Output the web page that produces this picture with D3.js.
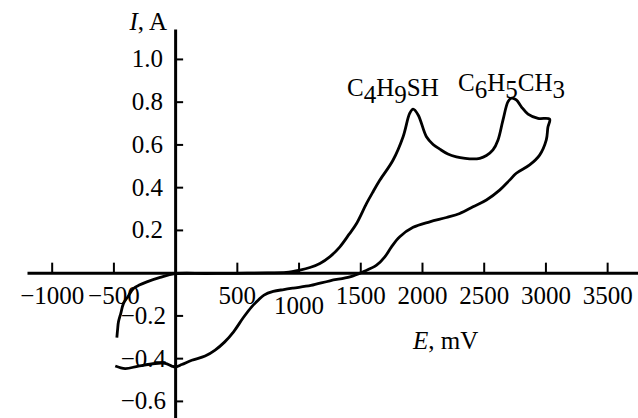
<!DOCTYPE html>
<html>
<head>
<meta charset="utf-8">
<script src="https://cdn.jsdelivr.net/npm/d3@7"></script>
<style>
  body { margin: 0; background: #fff; }
  text { font-family: "Liberation Serif", "Times New Roman", serif; font-size: 25px; fill: #000; }
</style>
</head>
<body>
<svg id="container" width="638" height="418"></svg>
<script>
// anodic (forward) scan, E in mV, I in A
const forwardE = [-472, -466, -459, -440, -418, -380, -337, -290, -229, -121, 0, 250, 500, 750, 900,
  1011, 1092, 1173, 1255, 1335, 1410, 1470, 1551, 1605, 1659, 1766, 1847, 1901, 1928, 1969, 2036,
  2090, 2144, 2210, 2279, 2350, 2413, 2468, 2522, 2575, 2616, 2656, 2697, 2724, 2764, 2805, 2859, 2940, 3034];
const forwardI = [-0.304, -0.265, -0.230, -0.190, -0.144, -0.110, -0.074, -0.058, -0.043, -0.022, -0.005, -0.004, -0.003, -0.001, 0.001,
  0.012, 0.024, 0.043, 0.075, 0.121, 0.180, 0.230, 0.324, 0.380, 0.433, 0.527, 0.636, 0.746, 0.765, 0.738, 0.636,
  0.600, 0.578, 0.555, 0.542, 0.535, 0.532, 0.535, 0.548, 0.574, 0.621, 0.714, 0.800, 0.816, 0.808, 0.776, 0.742, 0.722, 0.718];

// cathodic (reverse) scan
const reverseE = [3020, 3007, 2953, 2872, 2764, 2710, 2629, 2522, 2413, 2306, 2198, 2063, 1928, 1820, 1753,
  1699, 1632, 1524, 1416, 1254, 1100, 957, 880, 795, 720, 675, 620, 553, 472, 400, 324, 243, 135, 54, 0,
  -27, -81, -162, -297, -405, -485];
const reverseI = [0.680, 0.621, 0.550, 0.504, 0.465, 0.433, 0.386, 0.340, 0.308, 0.277, 0.258, 0.238, 0.212, 0.168, 0.121,
  0.074, 0.035, 0.004, -0.020, -0.038, -0.060, -0.072, -0.079, -0.088, -0.105, -0.128, -0.160, -0.210, -0.278, -0.325, -0.362, -0.390, -0.410, -0.430, -0.441,
  -0.437, -0.425, -0.425, -0.437, -0.449, -0.437];

const xTicks = [-1000, -500, 500, 1000, 1500, 2000, 2500, 3000, 3500];
const yTicks = [-0.6, -0.4, -0.2, 0.2, 0.4, 0.6, 0.8, 1.0];

const svg = d3.select('#container');
const width = +svg.attr('width');
const height = +svg.attr('height');

const x = d3.scaleLinear().domain([-1200, 3750]).range([27, 638]);
const y = d3.scaleLinear().domain([-0.68, 1.14]).range([418, 29]);

svg.append('rect').attr('width', width).attr('height', height).attr('fill', '#fff');

// x axis, ticks pointing up
const gx = svg.append('g')
  .attr('transform', `translate(0,${y(0)})`)
  .call(d3.axisBottom(x).tickValues(xTicks).tickFormat(d3.format('d'))
    .tickSizeInner(-10).tickSizeOuter(0).tickPadding(14));

gx.select('.domain').attr('stroke-width', 3);
gx.selectAll('.tick line').attr('stroke-width', 2);
gx.selectAll('.tick text')
  .attr('font-size', null).attr('font-family', null)
  .attr('y', d => d === 1000 ? 24 : 14);

// y axis, ticks pointing right
const gy = svg.append('g')
  .attr('transform', `translate(${x(0)},0)`)
  .call(d3.axisLeft(y).tickValues(yTicks).tickFormat(d3.format('.1f'))
    .tickSizeInner(-8).tickSizeOuter(0).tickPadding(12));

gy.select('.domain').attr('stroke-width', 3);
gy.selectAll('.tick line').attr('stroke-width', 2);
gy.selectAll('.tick text')
  .attr('font-size', null).attr('font-family', null)
  .attr('x', d => d < 0 ? -9 : -12);
svg.selectAll('.domain, .tick line').attr('stroke', '#000');
svg.selectAll('.tick text').attr('fill', '#000');

// the voltammogram, forward then back
const points = forwardE.map((e, i) => [e, forwardI[i]])
  .concat(reverseE.map((e, i) => [e, reverseI[i]]));

const line = d3.line()
  .x(d => x(d[0]))
  .y(d => y(d[1]))
  .curve(d3.curveCatmullRom.alpha(0.5));

svg.append('path')
  .datum(points)
  .attr('fill', 'none')
  .attr('stroke', '#000')
  .attr('stroke-width', 2.8)
  .attr('stroke-linejoin', 'round')
  .attr('d', line);

// axis titles
const yTitle = svg.append('text').attr('x', 167).attr('y', 30).attr('text-anchor', 'end');
yTitle.append('tspan').attr('font-style', 'italic').text('I');
yTitle.append('tspan').text(', A');

const xTitle = svg.append('text').attr('x', 413).attr('y', 349);
xTitle.append('tspan').attr('font-style', 'italic').text('E');
xTitle.append('tspan').text(', mV');

// peak labels with subscripts
function formula(parts, px, py) {
  const t = svg.append('text').attr('x', px).attr('y', py);
  parts.forEach(p => {
    const sub = /\d/.test(p);
    t.append('tspan').attr('dy', sub ? 7 : -7).text(p);
  });
  t.select('tspan').attr('dy', 0);
}
formula(['C', '4', 'H', '9', 'SH'], 347, 96);
formula(['C', '6', 'H', '5', 'CH', '3'], 458, 91);
</script>
</body>
</html>
